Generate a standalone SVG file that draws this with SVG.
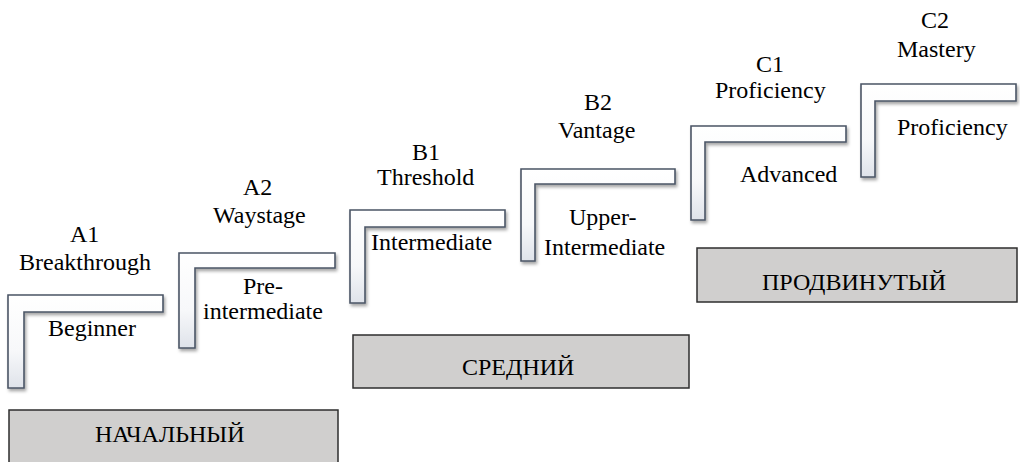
<svg xmlns="http://www.w3.org/2000/svg" width="1020" height="462" viewBox="0 0 1020 462">
<defs>
<linearGradient id="lg" x1="0" y1="0" x2="0" y2="1">
<stop offset="0" stop-color="#ffffff"/>
<stop offset="0.6" stop-color="#f7f8fa"/>
<stop offset="1" stop-color="#dfe3ea"/>
</linearGradient>
<filter id="sh" x="-10%" y="-10%" width="130%" height="130%">
<feDropShadow dx="1.5" dy="2.5" stdDeviation="1.8" flood-color="#000" flood-opacity="0.35"/>
</filter>
</defs>
<rect width="1020" height="462" fill="#fff"/>
<g id="a1">
<path fill="url(#lg)" stroke="#4b5566" stroke-width="1.6" filter="url(#sh)" d="M8,295 H163 V312 H24 V388 H8 Z"/>
<text font-family="Liberation Serif" font-size="24" x="70" y="242">A1</text>
<text font-family="Liberation Serif" font-size="24" x="19" y="270">Breakthrough</text>
<text font-family="Liberation Serif" font-size="24" x="48" y="336">Beginner</text>
</g>
<g id="a2">
<path fill="url(#lg)" stroke="#4b5566" stroke-width="1.6" filter="url(#sh)" d="M179,253 H335 V268 H195 V348 H179 Z"/>
<text font-family="Liberation Serif" font-size="24" x="243" y="195">A2</text>
<text font-family="Liberation Serif" font-size="24" x="213" y="223">Waystage</text>
<text font-family="Liberation Serif" font-size="24" x="243" y="294">Pre-</text>
<text font-family="Liberation Serif" font-size="24" x="203" y="319">intermediate</text>
</g>
<g id="b1">
<path fill="url(#lg)" stroke="#4b5566" stroke-width="1.6" filter="url(#sh)" d="M350,210 H505 V227 H365 V303 H350 Z"/>
<text font-family="Liberation Serif" font-size="24" x="412" y="160">B1</text>
<text font-family="Liberation Serif" font-size="24" x="377" y="185">Threshold</text>
<text font-family="Liberation Serif" font-size="24" x="371" y="250">Intermediate</text>
</g>
<g id="b2">
<path fill="url(#lg)" stroke="#4b5566" stroke-width="1.6" filter="url(#sh)" d="M521,169 H675 V184 H535 V261 H521 Z"/>
<text font-family="Liberation Serif" font-size="24" x="584" y="110">B2</text>
<text font-family="Liberation Serif" font-size="24" x="558" y="138">Vantage</text>
<text font-family="Liberation Serif" font-size="24" x="569" y="225">Upper-</text>
<text font-family="Liberation Serif" font-size="24" x="544" y="255">Intermediate</text>
</g>
<g id="c1">
<path fill="url(#lg)" stroke="#4b5566" stroke-width="1.6" filter="url(#sh)" d="M691,126 H846 V142 H705 V220 H691 Z"/>
<text font-family="Liberation Serif" font-size="24" x="756" y="72">C1</text>
<text font-family="Liberation Serif" font-size="24" x="715" y="98">Proficiency</text>
<text font-family="Liberation Serif" font-size="24" x="740" y="182">Advanced</text>
</g>
<g id="c2">
<path fill="url(#lg)" stroke="#4b5566" stroke-width="1.6" filter="url(#sh)" d="M861,84 H1016 V101 H875 V177 H861 Z"/>
<text font-family="Liberation Serif" font-size="24" x="921" y="28">C2</text>
<text font-family="Liberation Serif" font-size="24" x="897" y="57">Mastery</text>
<text font-family="Liberation Serif" font-size="24" x="897" y="135">Proficiency</text>
</g>
<g id="basic">
<rect fill="#d0cfce" stroke="#2e2e2e" stroke-width="1.5" x="9" y="410" width="329" height="60"/>
<text font-family="Liberation Serif" font-size="24" x="95" y="442">НАЧАЛЬНЫЙ</text>
</g>
<g id="middle">
<rect fill="#d0cfce" stroke="#2e2e2e" stroke-width="1.5" x="353" y="335" width="336" height="53"/>
<text font-family="Liberation Serif" font-size="24" x="462" y="375">СРЕДНИЙ</text>
</g>
<g id="advanced">
<rect fill="#d0cfce" stroke="#2e2e2e" stroke-width="1.5" x="697" y="248" width="320" height="54"/>
<text font-family="Liberation Serif" font-size="24" x="762" y="290">ПРОДВИНУТЫЙ</text>
</g>
<g id="connectors"></g>
</svg>
